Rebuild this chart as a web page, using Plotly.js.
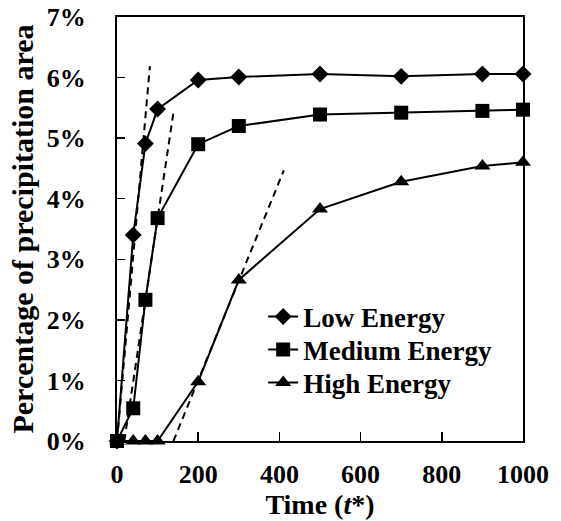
<!DOCTYPE html>
<html>
<head>
<meta charset="utf-8">
<script src="https://cdn.plot.ly/plotly-3.0.1.min.js"></script>
<style>html,body{margin:0;padding:0;background:#fff}#chart{width:561px;height:521px}</style>
</head>
<body>
<div id="chart"></div>
<script>
const timeVals = [0, 40, 70, 100, 200, 300, 500, 700, 900, 1000];
const lowEnergy = [0, 3.40, 4.91, 5.48, 5.96, 6.01, 6.06, 6.02, 6.06, 6.06];
const mediumEnergy = [0, 0.54, 2.33, 3.68, 4.90, 5.20, 5.39, 5.42, 5.45, 5.47];
const highEnergy = [0, 0, 0, 0, 0.98, 2.66, 3.83, 4.28, 4.54, 4.60];
const seriesNames = ['Low Energy', 'Medium Energy', 'High Energy'];

// dashed tangent (initial-slope) lines: [x0, x1], [y0, y1]
const lowTangentX = [0, 81];
const lowTangentY = [0, 6.19];
const medTangentX = [18, 139];
const medTangentY = [0, 5.42];
const highTangentX = [139, 411];
const highTangentY = [0, 4.47];

const FONT = 'Liberation Serif';
const black = '#000';
const BOLD = 700;

function dashTrace(x, y) {
  return {x: x, y: y, mode: 'lines', type: 'scatter', showlegend: false, hoverinfo: 'skip',
    line: {color: black, width: 2, dash: '7px,5px'}, cliponaxis: false};
}

const traces = [
  dashTrace(lowTangentX, lowTangentY),
  dashTrace(medTangentX, medTangentY),
  dashTrace(highTangentX, highTangentY),
  {x: timeVals, y: lowEnergy, name: seriesNames[0], legend: 'legend', type: 'scatter', mode: 'lines+markers',
    line: {color: black, width: 2}, marker: {symbol: 'diamond', size: 13, color: black}, cliponaxis: false},
  {x: timeVals, y: mediumEnergy, name: seriesNames[1], legend: 'legend2', type: 'scatter', mode: 'lines+markers',
    line: {color: black, width: 2}, marker: {symbol: 'square', size: 14, color: black}, cliponaxis: false},
  {x: timeVals, y: highEnergy, name: seriesNames[2], legend: 'legend3', type: 'scatter', mode: 'lines+markers',
    line: {color: black, width: 2}, marker: {symbol: 'triangle-up', size: 14, color: black}, cliponaxis: false}
];

function legendAt(yc) {
  return {x: 0.36, y: yc, xanchor: 'left', yanchor: 'middle', bgcolor: 'rgba(0,0,0,0)',
    font: {family: FONT, size: 27, color: black, weight: BOLD}, itemwidth: 30};
}

const layout = {
  width: 561, height: 521,
  margin: {l: 117, r: 38, t: 17, b: 80, pad: 0},
  paper_bgcolor: '#fff', plot_bgcolor: '#fff',
  font: {family: FONT, color: black, size: 26, weight: BOLD},
  showlegend: true,
  legend: legendAt(0.2925),
  legend2: legendAt(0.2146),
  legend3: legendAt(0.1368),
  xaxis: {
    range: [0, 1000], dtick: 200, tick0: 0,
    showline: true, linecolor: black, linewidth: 2, mirror: true,
    ticks: 'inside', ticklen: 9, tickwidth: 1.5, tickcolor: black,
    showgrid: false, zeroline: false,
    tickfont: {family: FONT, size: 26, color: black, weight: BOLD},
    ticklabelstandoff: 9,
    title: {text: 'Time (<i>t</i>*)', font: {family: FONT, size: 28, color: black, weight: BOLD}, standoff: 2}
  },
  yaxis: {
    range: [0, 7], dtick: 1, tick0: 0, ticksuffix: '%',
    showline: true, linecolor: black, linewidth: 2, mirror: true,
    ticks: 'inside', ticklen: 8, tickwidth: 1.5, tickcolor: black,
    showgrid: false, zeroline: false,
    tickfont: {family: FONT, size: 26, color: black, weight: BOLD},
    ticklabelstandoff: 24,
    title: {text: 'Percentage of precipitation area', font: {family: FONT, size: 30, color: black, weight: BOLD}, standoff: 4}
  }
};

Plotly.newPlot('chart', traces, layout, {displayModeBar: false, staticPlot: true});
</script>
</body>
</html>
